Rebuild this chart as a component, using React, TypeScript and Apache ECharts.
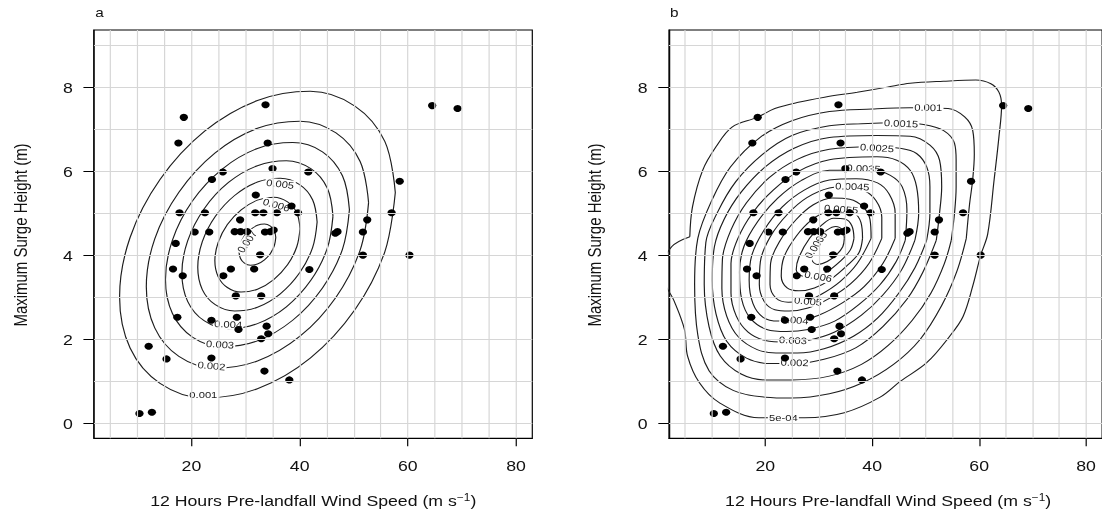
import React, { useEffect, useRef } from "react";
import * as echarts from "echarts";

// The reference image is horizontally stretched; render unstretched and scale in CSS.
const STRETCH = 1.18;
const CHART_W = 934;
const CHART_H = 512;
const FONT = '"Liberation Sans", Arial, sans-serif';
const TEXT_COLOR = "#111";

// ---------- observations (same in both panels) ----------
const windSpeed = [
  33.7, 18.6, 17.6, 34.1, 35.0, 41.6, 25.8, 23.8, 31.9, 38.5, 39.7, 17.8, 22.5, 31.8, 33.3, 35.8,
  29.0, 20.6, 23.3, 28.0, 29.1, 30.3, 33.6, 34.6, 35.2, 64.5, 69.2, 58.5, 57.0, 52.5, 46.6, 47.0,
  51.7, 51.7, 60.3, 41.8, 17.1, 32.7, 16.6, 18.4, 27.3, 25.9, 31.6, 28.2, 32.9, 17.4, 23.7, 28.4,
  28.7, 33.9, 34.2, 32.9, 12.1, 15.4, 23.7, 33.5, 38.1, 10.4, 12.7,
];
const surgeHeight = [
  7.58, 7.28, 6.67, 6.67, 6.06, 5.98, 5.98, 5.8, 5.43, 5.17, 5.01, 5.01, 5.01, 5.01, 5.01, 5.01,
  4.84, 4.55, 4.55, 4.56, 4.56, 4.56, 4.55, 4.56, 4.6, 7.56, 7.49, 5.76, 5.01, 4.84, 4.52, 4.56,
  4.55, 4.0, 4.0, 3.66, 4.28, 4.01, 3.67, 3.51, 3.67, 3.51, 3.67, 3.03, 3.03, 2.52, 2.45, 2.52,
  2.23, 2.31, 2.13, 2.01, 1.83, 1.53, 1.55, 1.24, 1.03, 0.23, 0.26,
];

// ---------- axes ----------
const xTickValues = [20, 40, 60, 80];
const yTickValues = [0, 2, 4, 6, 8];
const xGridValues = [5, 10, 15, 20, 25, 30, 35, 40, 45, 50, 55, 60, 65, 70, 75, 80];
const yGridValues = [0, 1, 2, 3, 4, 5, 6, 7, 8, 9];
const X_MIN = 2;
const X_MAX = 83;
const Y_MIN = -0.36;
const Y_MAX = 9.36;

const panelLetters = ["a", "b"];
const xTitle = "12 Hours Pre-landfall Wind Speed (m s";
const xTitleSup = "−1";
const yTitle = "Maximum Surge Height (m)";

// ---------- panel a contours (traced) ----------
const a0001 = [[57.68,5.49],[55.74,6.71],[50.21,7.55],[41.96,7.9],[32.2,7.68],[22.44,6.95],[14.19,5.8],[8.66,4.42],[6.72,3.01],[8.66,1.79],[14.19,0.95],[22.44,0.6],[32.2,0.82],[41.96,1.55],[50.21,2.7],[55.74,4.08],[57.68,5.49]];
const a0002 = [[52.74,5.25],[51.18,6.23],[46.72,6.91],[40.07,7.19],[32.2,7.02],[24.33,6.43],[17.68,5.5],[13.22,4.39],[11.66,3.25],[13.22,2.27],[17.68,1.59],[24.33,1.31],[32.2,1.48],[40.07,2.07],[46.72,3.0],[51.18,4.12],[52.74,5.25]];
const a0003 = [[49.2,5.08],[47.91,5.89],[44.22,6.46],[38.71,6.68],[32.2,6.54],[25.69,6.05],[20.18,5.29],[16.49,4.36],[15.2,3.42],[16.49,2.61],[20.18,2.05],[25.69,1.82],[32.2,1.96],[38.71,2.45],[44.22,3.22],[47.91,4.14],[49.2,5.08]];
const a0004 = [[46.16,4.93],[45.1,5.6],[42.07,6.06],[37.55,6.25],[32.2,6.13],[26.85,5.73],[22.33,5.1],[19.3,4.34],[18.24,3.57],[19.3,2.9],[22.33,2.44],[26.85,2.25],[32.2,2.37],[37.55,2.77],[42.07,3.4],[45.1,4.16],[46.16,4.93]];
const a0005 = [[43.23,4.79],[42.39,5.32],[40.0,5.68],[36.42,5.83],[32.2,5.74],[27.98,5.42],[24.4,4.92],[22.01,4.32],[21.17,3.71],[22.01,3.18],[24.4,2.82],[27.98,2.67],[32.2,2.76],[36.42,3.08],[40.0,3.58],[42.39,4.18],[43.23,4.79]];
const a0006 = [[40.07,4.63],[39.47,5.01],[37.76,5.27],[35.21,5.38],[32.2,5.31],[29.19,5.08],[26.64,4.73],[24.93,4.3],[24.33,3.87],[24.93,3.49],[26.64,3.23],[29.19,3.12],[32.2,3.19],[35.21,3.42],[37.76,3.77],[39.47,4.2],[40.07,4.63]];
const a0007 = [[35.59,4.42],[35.33,4.58],[34.6,4.69],[33.5,4.74],[32.2,4.71],[30.9,4.61],[29.8,4.46],[29.07,4.27],[28.81,4.09],[29.07,3.92],[29.8,3.81],[30.9,3.76],[32.2,3.79],[33.5,3.89],[34.6,4.04],[35.33,4.23],[35.59,4.42]];
const contoursA = [a0001, a0002, a0003, a0004, a0005, a0006, a0007];
const labelTextA = ["0.001", "0.002", "0.003", "0.004", "0.005", "0.006", "0.007"];
const labelPosA = [[22.2,0.67],[23.7,1.36],[25.3,1.87],[26.8,2.35],[36.4,5.69],[35.7,5.19],[30.3,4.32]];
const labelRotA = [0, -6, -4, -3, -8, -18, 59];

// ---------- panel b contours (traced) ----------
const b00005 = [[5.9,4.44],[6.4,5.15],[8.3,6.02],[10.8,6.58],[13.8,7.05],[18.5,7.28],[21.8,7.49],[26.2,7.64],[31.1,7.76],[37.2,7.88],[42.8,8.0],[47.1,8.09],[53.3,8.14],[59.4,8.17],[62.2,8.08],[63.7,7.88],[64.2,7.57],[63.7,6.81],[62.8,5.79],[61.6,4.5],[60.3,4.0],[58.8,3.26],[57.0,2.54],[54.5,2.07],[50.2,1.44],[45.3,1.0],[41.5,0.62],[34.8,0.25],[27.4,0.13],[18.8,0.13],[11.4,0.49],[7.7,0.96],[5.5,1.59],[4.9,2.23],[3.0,2.9],[0.5,3.6],[2.5,4.2],[5.9,4.44]];
const b0001 = [[57.6,4.4],[58.2,5.2],[58.8,5.8],[59.1,6.4],[58.8,6.97],[57.3,7.29],[54.2,7.49],[47.1,7.51],[40,7.48],[32,7.42],[25,7.2],[19,6.8],[13.5,6.1],[10,5.3],[7.4,4.4],[6.8,3.3],[7.4,2.1],[9.5,1.25],[14,0.78],[20,0.62],[25,0.6],[32,0.7],[38,0.95],[44,1.4],[49,2.0],[53,2.8],[55.8,3.6],[57.6,4.4]];
const b00015 = [[54.8,4.36],[55.4,5.0],[55.7,5.63],[55.7,6.26],[55.4,6.66],[53.3,6.97],[49.6,7.11],[45,7.15],[38,7.13],[32,7.08],[25,6.85],[19.5,6.4],[14.5,5.75],[11,5.0],[8.9,4.3],[8.6,3.3],[9.5,2.3],[11.6,1.6],[15.5,1.17],[20,1.03],[25,1.03],[32,1.12],[38,1.4],[43,1.85],[47.5,2.45],[51,3.1],[53.5,3.8],[54.8,4.36]];
const b0002 = [[52.0,4.36],[52.6,5.0],[53.0,5.63],[52.6,6.26],[50.8,6.62],[47.1,6.83],[40.9,6.85],[32,6.8],[25.5,6.55],[20,6.1],[15.5,5.5],[12.3,4.85],[10.5,4.2],[10.1,3.4],[10.8,2.6],[12.8,1.95],[16.5,1.55],[21,1.42],[25.5,1.42],[31,1.52],[37,1.8],[42,2.3],[46.5,2.95],[49.5,3.6],[52.0,4.36]];
const b00025 = [[50.2,4.36],[50.8,5.0],[50.8,5.63],[50.2,6.1],[48.3,6.42],[45.5,6.54],[40,6.58],[32,6.52],[26,6.28],[20.8,5.85],[16.5,5.25],[13.6,4.6],[12.0,3.9],[11.9,3.2],[12.8,2.55],[15,2.05],[18.5,1.75],[22,1.67],[26,1.67],[31,1.77],[36.5,2.07],[41,2.5],[45,3.1],[48,3.7],[50.2,4.36]];
const b0003 = [[48.0,4.36],[48.7,5.0],[48.3,5.63],[47.1,6.02],[44.6,6.26],[40.9,6.34],[32,6.27],[26.3,6.0],[21.5,5.55],[17.6,5.0],[14.9,4.4],[13.6,3.8],[13.6,3.1],[14.6,2.55],[16.8,2.17],[20,1.97],[24,1.93],[28,1.97],[33,2.17],[38,2.57],[42,3.05],[45.5,3.65],[48.0,4.36]];
const b00035 = [[46.2,4.36],[46.5,5.07],[45.6,5.63],[43.4,5.9],[40,6.03],[32,6.02],[26.8,5.78],[22.3,5.35],[18.6,4.8],[16,4.2],[15.2,3.6],[15.6,2.95],[17.2,2.5],[20.3,2.23],[24,2.18],[28,2.23],[33,2.43],[37.5,2.82],[41.5,3.3],[44.5,3.85],[46.2,4.36]];
const b0004 = [[44.3,4.4],[44.3,5.0],[43.2,5.45],[41,5.72],[37,5.82],[32,5.79],[27.3,5.55],[23.2,5.15],[19.8,4.6],[17.5,4.0],[17.0,3.4],[17.7,2.85],[19.6,2.52],[22.5,2.43],[26,2.44],[30,2.57],[34.5,2.87],[38.5,3.25],[42,3.8],[44.3,4.4]];
const b00045 = [[41.8,4.4],[41.8,4.9],[40.7,5.3],[38.3,5.55],[35,5.63],[32,5.6],[27.8,5.37],[24.2,4.98],[21,4.45],[19.1,3.85],[18.9,3.3],[19.8,2.9],[21.8,2.7],[24.5,2.67],[28,2.74],[32,2.97],[36,3.32],[39.4,3.8],[41.8,4.4]];
const b0005 = [[39.8,4.4],[39.6,4.85],[38.3,5.15],[35.8,5.33],[32.5,5.36],[29,5.2],[25.8,4.85],[22.8,4.35],[21.0,3.8],[20.9,3.3],[22,2.98],[24.3,2.88],[27.3,2.9],[30.5,3.07],[34,3.37],[37.2,3.8],[39.8,4.4]];
const b00055 = [[38.2,4.4],[37.9,4.78],[36.6,5.02],[34.4,5.1],[31.8,5.05],[28.8,4.85],[25.8,4.45],[23.5,3.95],[23.0,3.5],[24.1,3.22],[26.3,3.15],[29.2,3.22],[32.2,3.42],[35.3,3.75],[37.5,4.05],[38.2,4.4]];
const b0006 = [[36.6,4.4],[36.2,4.7],[34.9,4.86],[32.8,4.88],[30.6,4.72],[28.3,4.4],[26.3,3.95],[25.8,3.65],[27,3.5],[29.2,3.48],[31.5,3.6],[34,3.85],[35.9,4.12],[36.6,4.4]];
const b00065 = [[34.8,4.4],[34.4,4.6],[33.2,4.68],[31.6,4.6],[30.1,4.42],[29.0,4.1],[28.8,3.88],[29.8,3.78],[31.6,3.85],[33.4,4.02],[34.5,4.2],[34.8,4.4]];
const contoursB = [b00005, b0001, b00015, b0002, b00025, b0003, b00035, b0004, b00045, b0005, b00055, b0006, b00065];
const labelTextB = ["5e-04", "0.002", "0.003", "0.004", "0.005", "0.006", "0.0065", "0.0055", "0.0045", "0.0035", "0.0025", "0.0015", "0.001"];
const labelPosB = [[23.4,0.12],[25.5,1.44],[25.2,1.97],[25.5,2.45],[28.0,2.9],[29.9,3.49],[29.5,4.24],[34.2,5.09],[36.3,5.63],[38.4,6.06],[40.9,6.55],[45.4,7.13],[50.5,7.51]];
const labelRotB = [0, -2, -3, -5, -6, -12, 60, -5, -3, -3, -4, -3, -1];

// ---------- layout (unstretched px) ----------
const GRID_TOP = 30;
const GRID_H = 408.3;
const GRID_W = 371.4;
const GRID_LEFT = [79.7, 566.9];

export default function App() {
  const ref = useRef<HTMLDivElement>(null);

  useEffect(() => {
    if (!ref.current) return;
    const chart = echarts.init(ref.current, null, { renderer: "svg" });

    const axisLabelStyle = { fontFamily: FONT, fontSize: 15, color: TEXT_COLOR };

    const grids = GRID_LEFT.map((left) => ({
      left,
      top: GRID_TOP,
      width: GRID_W,
      height: GRID_H,
      show: true,
      borderColor: "#000",
      borderWidth: 1,
      backgroundColor: "rgba(0,0,0,0)",
      containLabel: false,
    }));

    const xAxes = [0, 1].map((i) => ({
      gridIndex: i,
      type: "value",
      min: X_MIN,
      max: X_MAX,
      axisLine: { show: true, onZero: false, lineStyle: { color: "#000", width: 1 } },
      splitLine: { show: false },
      axisTick: { show: true, length: 8, customValues: xTickValues, lineStyle: { color: "#000" } },
      axisLabel: { show: true, margin: 20, customValues: xTickValues, ...axisLabelStyle },
    }));
    const yAxes = [0, 1].map((i) => ({
      gridIndex: i,
      type: "value",
      min: Y_MIN,
      max: Y_MAX,
      axisLine: { show: true, onZero: false, lineStyle: { color: "#000", width: 1 } },
      splitLine: { show: false },
      axisTick: { show: true, length: 9, customValues: yTickValues, lineStyle: { color: "#000" } },
      axisLabel: { show: true, margin: 18, customValues: yTickValues, ...axisLabelStyle },
    }));

    const series: any[] = [];
    const panels = [
      { contours: contoursA, texts: labelTextA, pos: labelPosA, rot: labelRotA },
      { contours: contoursB, texts: labelTextB, pos: labelPosB, rot: labelRotB },
    ];

    panels.forEach((p, i) => {
      series.push({
        type: "line",
        xAxisIndex: i,
        yAxisIndex: i,
        data: [],
        silent: true,
        z: 1,
        markLine: {
          silent: true,
          symbol: ["none", "none"],
          animation: false,
          label: { show: false },
          emphasis: { disabled: true },
          lineStyle: { color: "#d6d6d6", width: 1, type: "solid" },
          data: [
            ...xGridValues.map((v) => ({ xAxis: v })),
            ...yGridValues.map((v) => ({ yAxis: v })),
          ],
        },
      });
      p.contours.forEach((pts) => {
        series.push({
          type: "line",
          xAxisIndex: i,
          yAxisIndex: i,
          data: pts,
          smooth: 0.35,
          showSymbol: false,
          symbol: "none",
          silent: true,
          clip: true,
          z: 2,
          lineStyle: { color: "#1e1e1e", width: 1 },
        });
      });
      p.texts.forEach((t, k) => {
        series.push({
          type: "scatter",
          xAxisIndex: i,
          yAxisIndex: i,
          symbol: "circle",
          symbolSize: 1,
          silent: true,
          z: 3,
          itemStyle: { color: "#ffffff", opacity: 1 },
          data: [{ name: t, value: p.pos[k] }],
          label: {
            show: true,
            position: "inside",
            rotate: p.rot[k],
            formatter: t,
            fontFamily: FONT,
            fontSize: 9.5,
            color: "#1a1a1a",
            textBorderWidth: 0,
            textBorderColor: "transparent",
            textShadowBlur: 0,
            backgroundColor: "#ffffff",
            padding: [0, 1],
          },
        });
      });
      series.push({
        type: "scatter",
        xAxisIndex: i,
        yAxisIndex: i,
        symbol: "circle",
        symbolSize: 7,
        silent: true,
        z: 4,
        itemStyle: { color: "#000", opacity: 1 },
        data: windSpeed.map((w, k) => [w, surgeHeight[k]]),
      });
    });

    const graphics: any[] = [];
    GRID_LEFT.forEach((left, i) => {
      graphics.push({
        type: "text",
        x: left + 1,
        y: 12,
        style: {
          text: panelLetters[i],
          font: `13px ${FONT}`,
          fill: TEXT_COLOR,
          align: "left",
          verticalAlign: "middle",
        },
      });
      graphics.push({
        type: "text",
        x: left - 62.7,
        y: 235,
        rotation: Math.PI / 2,
        style: {
          text: yTitle,
          font: `15px ${FONT}`,
          fill: TEXT_COLOR,
          align: "center",
          verticalAlign: "middle",
        },
      });
      graphics.push({
        type: "text",
        x: left + GRID_W / 2,
        y: 501,
        style: {
          text: `{a|${xTitle}}{s|${xTitleSup}}{a|)}`,
          align: "center",
          verticalAlign: "middle",
          rich: {
            a: { fontFamily: FONT, fontSize: 15, lineHeight: 18, fill: TEXT_COLOR, color: TEXT_COLOR },
            s: {
              fontFamily: FONT,
              fontSize: 10,
              lineHeight: 10,
              verticalAlign: "top",
              fill: TEXT_COLOR,
              color: TEXT_COLOR,
            },
          },
        },
      });
    });

    chart.setOption({
      animation: false,
      backgroundColor: "#fff",
      grid: grids,
      xAxis: xAxes,
      yAxis: yAxes,
      series,
      graphic: graphics,
    });

    return () => chart.dispose();
  }, []);

  return (
    <div
      style={{
        position: "absolute",
        left: 0,
        top: 0,
        width: 1102,
        height: 512,
        overflow: "hidden",
        background: "#fff",
      }}
    >
      <div
        ref={ref}
        style={{
          width: CHART_W,
          height: CHART_H,
          transform: `scaleX(${STRETCH})`,
          transformOrigin: "0 0",
          willChange: "transform",
        }}
      />
    </div>
  );
}
